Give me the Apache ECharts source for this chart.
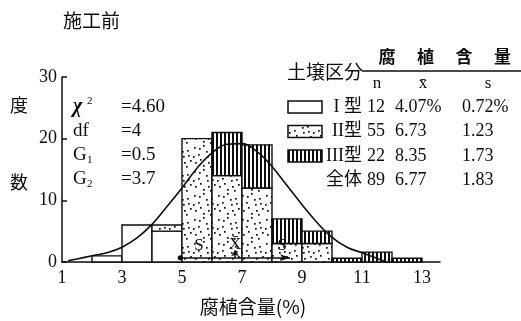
<!DOCTYPE html>
<html>
<head>
<meta charset="utf-8">
<script src="https://cdn.jsdelivr.net/npm/echarts@6/dist/echarts.min.js"></script>
<style>
  html, body { margin: 0; padding: 0; background: #fff; }
  #chart { width: 521px; height: 321px; }
</style>
</head>
<body>
<div id="chart"></div>
<script>
// Histogram of humus content (%) before construction, stacked by soil type
const binStart = [2, 3, 4, 5, 6, 7, 8, 9, 10, 11, 12];
const countI   = [1, 6, 5, 0, 0, 0, 0, 0, 0, 0, 0];
const countII  = [0, 0, 1, 20, 14, 12, 3, 3, 0, 0, 0];
const countIII = [0, 0, 0, 0, 7, 7, 4, 2, 0.6, 1.6, 0.6];

// Fitted normal curve (frequency per 1% class)
const curveX = [1.2, 1.5, 2, 2.5, 3, 3.5, 4, 4.5, 5, 5.5, 6, 6.5, 7, 7.5, 8, 8.5, 9, 9.5, 10, 10.5, 11, 11.5, 11.8];
const curveY = [0.2, 0.5, 1.0, 1.5, 2.4, 3.9, 6.1, 9.0, 12.0, 15.2, 17.7, 19.1, 19.2, 17.9, 15.5, 12.4, 9.3, 6.4, 4.0, 2.4, 1.5, 0.6, 0.05];

// Summary table
const typeNames = ['I 型', 'II型', 'III型', '全体'];
const typeN     = [12, 55, 22, 89];
const typeMean  = [4.07, 6.73, 8.35, 6.77];
const typeSd    = [0.72, 1.23, 1.73, 1.83];
const typeUnit  = ['%', '', '', ''];

// Goodness-of-fit statistics
const statBase  = ['χ', 'df', 'G', 'G'];
const statMark  = ['2', '', '1', '2'];
const statValue = ['4.60', '4', '0.5', '3.7'];

const yTicks = [0, 10, 20, 30];
const xTicks = [1, 3, 5, 7, 9, 11, 13];

const SERIF = "'Liberation Serif', 'Noto Sans CJK JP', serif";
const CJK = "'Noto Sans CJK JP', sans-serif";
const INK = '#0d0d0d';

// Fill patterns: plain, stippled, vertical hatching
function makeDots() {
  const c = document.createElement('canvas');
  c.width = 24; c.height = 24;
  const g = c.getContext('2d');
  g.fillStyle = '#fff'; g.fillRect(0, 0, 24, 24);
  g.fillStyle = INK;
  [[2,3],[11,1],[19,6],[6,10],[15,12],[22,16],[3,18],[11,21],[18,22],[8,15],[20,11],[7,4],[14,7],[1,12],[16,18]]
    .forEach(p => g.fillRect(p[0], p[1], 1.7, 1.7));
  return c;
}
function makeStripes() {
  const c = document.createElement('canvas');
  c.width = 4; c.height = 4;
  const g = c.getContext('2d');
  g.fillStyle = '#fff'; g.fillRect(0, 0, 4, 4);
  g.fillStyle = INK; g.fillRect(0, 0, 2, 4);
  return c;
}
const fills = [
  '#ffffff',
  { image: makeDots(), repeat: 'repeat' },
  { image: makeStripes(), repeat: 'repeat' }
];

// Stacked rectangles: [x0, x1, y0, y1, type]
const barData = [];
binStart.forEach((x, i) => {
  let base = 0;
  [countI[i], countII[i], countIII[i]].forEach((h, t) => {
    if (h > 0) {
      barData.push([x, x + 1, base, base + h, t]);
      base += h;
    }
  });
});

const curveData = curveX.map((x, i) => [x, curveY[i]]);

const mAll = typeMean[3], sAll = typeSd[3];
const arrowY = 0.7;
const markerLabels = [
  [mAll - 0.66 * sAll, 2.6, 'S'],
  [mAll, 2.8, 'X̄'],
  [mAll + 0.86 * sAll, 2.6, 'S']
];

// Text and legend overlay
const g = [];
function txt(text, x, y, o) {
  o = o || {};
  g.push({
    type: 'text', x: x, y: y, silent: true,
    style: {
      text: text, fill: INK,
      fontSize: o.size || 18, fontFamily: o.font || SERIF,
      fontStyle: o.style || 'normal', fontWeight: o.weight || 'normal',
      align: o.align || 'left', verticalAlign: 'middle'
    }
  });
}
txt('施工前', 63, 21, { font: CJK, size: 19 });
txt('度', 19, 105, { font: CJK, size: 18, align: 'center' });
txt('数', 19, 182, { font: CJK, size: 18, align: 'center' });
txt('腐植含量(%)', 253, 307, { font: CJK, size: 19, align: 'center' });

statBase.forEach((b, i) => {
  const y = 107 + i * 24;
  if (b === 'χ') {
    txt(b, 73, y, { size: 20, style: 'italic', weight: 'bold' });
    txt(statMark[i], 87, y - 6, { size: 11 });
  } else {
    txt(b, 73, y, { size: 19 });
    if (statMark[i]) txt(statMark[i], 87, y + 5, { size: 11 });
  }
  txt('=' + statValue[i], 121, y, { size: 19 });
});

txt('土壌区分', 287, 72, { font: CJK, size: 19 });
'腐植含量'.split('').forEach((ch, i) => txt(ch, 387 + i * 38.5, 57, { font: CJK, size: 17, align: 'center', weight: 'bold' }));
g.push({ type: 'line', silent: true, shape: { x1: 362, y1: 71, x2: 521, y2: 71 }, style: { stroke: INK, lineWidth: 1.5 } });
txt('n', 377, 84, { size: 17, align: 'center' });
txt('x̄', 423, 84, { size: 17, align: 'center' });
txt('s', 488, 84, { size: 17, align: 'center' });

typeNames.forEach((name, i) => {
  const y = 107 + i * 24.5;
  if (i < 3) {
    g.push({ type: 'rect', silent: true, shape: { x: 288, y: y - 6, width: 34, height: 12 },
      style: { fill: fills[i], stroke: INK, lineWidth: 1.5 } });
  }
  txt(name, 362, y, { size: 18, align: 'right' });
  txt(String(typeN[i]), 367, y, { size: 18 });
  txt(typeMean[i].toFixed(2) + typeUnit[i], 395, y, { size: 18 });
  txt(typeSd[i].toFixed(2) + typeUnit[i], 462, y, { size: 18 });
});

const chart = echarts.init(document.getElementById('chart'), null, { renderer: 'canvas' });
chart.setOption({
  backgroundColor: '#fff',
  animation: false,
  grid: { left: 62, right: 81, top: 77, bottom: 59 },
  xAxis: {
    type: 'value', min: 1, max: 13.6, interval: 2,
    axisLine: { show: true, onZero: false, lineStyle: { color: INK, width: 1.5 } },
    axisTick: { show: false },
    splitLine: { show: false },
    axisLabel: {
      color: INK, fontSize: 18, fontFamily: SERIF, margin: 7, showMaxLabel: false,
      formatter: v => (xTicks.indexOf(v) >= 0 ? String(v) : '')
    }
  },
  yAxis: {
    type: 'value', min: 0, max: 30, interval: 10,
    axisLine: { show: true, lineStyle: { color: INK, width: 1.5 } },
    axisTick: { show: true, inside: true, length: 5, lineStyle: { color: INK, width: 1.5 } },
    splitLine: { show: false },
    axisLabel: {
      color: INK, fontSize: 18, fontFamily: SERIF, margin: 5,
      formatter: v => (yTicks.indexOf(v) >= 0 ? String(v) : '')
    }
  },
  series: [
    {
      type: 'custom',
      data: barData,
      encode: { x: [0, 1], y: [2, 3] },
      renderItem: function (params, api) {
        const p0 = api.coord([api.value(0), api.value(2)]);
        const p1 = api.coord([api.value(1), api.value(3)]);
        return {
          type: 'rect',
          shape: { x: p0[0], y: p1[1], width: p1[0] - p0[0], height: p0[1] - p1[1] },
          style: { fill: fills[api.value(4)], stroke: INK, lineWidth: 1.4 }
        };
      },
      z: 2
    },
    {
      type: 'line',
      data: curveData,
      smooth: 0.4,
      showSymbol: false,
      lineStyle: { color: INK, width: 1.6 },
      z: 4,
      markLine: {
        silent: true,
        animation: false,
        label: { show: false },
        lineStyle: { color: INK, width: 1.5, type: 'solid' },
        symbol: ['circle', 'arrow'],
        symbolSize: [5, 10],
        data: [
          [{ coord: [mAll - sAll, arrowY] }, { coord: [mAll + sAll, arrowY] }],
          [{ coord: [mAll, arrowY], symbol: 'none' }, { coord: [mAll, 1.9], symbol: 'arrow', symbolSize: 6 }]
        ]
      }
    },
    {
      // "S" and "X̄" markers above the mean ± s bar
      type: 'custom',
      data: markerLabels,
      encode: { x: 0, y: 1 },
      z: 5,
      renderItem: function (params, api) {
        const p = api.coord([api.value(0), api.value(1)]);
        return {
          type: 'text',
          x: p[0], y: p[1],
          style: {
            text: markerLabels[params.dataIndex][2], fill: INK,
            font: '17px "Liberation Serif", serif',
            align: 'center', verticalAlign: 'middle',
            textAlign: 'center', textVerticalAlign: 'middle'
          }
        };
      }
    }
  ],
  graphic: g
});
</script>
</body>
</html>
